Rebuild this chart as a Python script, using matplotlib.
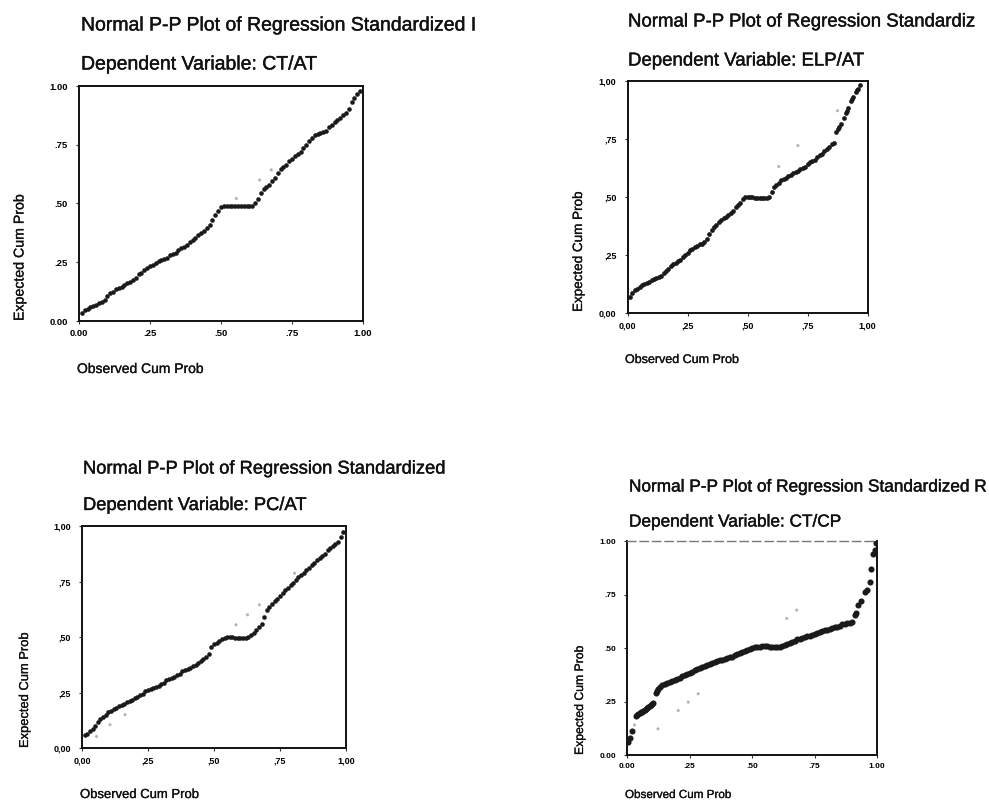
import matplotlib
matplotlib.use("Agg")
import matplotlib.pyplot as plt
import matplotlib.patheffects as pe

plt.rcParams['font.family'] = ['Liberation Sans', 'DejaVu Sans']

W, H = 989, 805

# ---------------- data ----------------
tick_vals = [0.0, 0.25, 0.5, 0.75, 1.0]
labels_dot = ["0.00", ".25", ".50", ".75", "1.00"]
labels_comma = ["0,00", ",25", ",50", ",75", "1,00"]

titles = [
    ("Normal P-P Plot of Regression Standardized I", "Dependent Variable: CT/AT"),
    ("Normal P-P Plot of Regression Standardiz", "Dependent Variable: ELP/AT"),
    ("Normal P-P Plot of Regression Standardized", "Dependent Variable: PC/AT"),
    ("Normal P-P Plot of Regression Standardized R", "Dependent Variable: CT/CP"),
]
xlabel_text = "Observed Cum Prob"
ylabel_text = "Expected Cum Prob"

obs_grid = [0.01, 0.02, 0.03, 0.04, 0.05, 0.06, 0.07, 0.08, 0.09, 0.10,
            0.11, 0.12, 0.13, 0.14, 0.15, 0.16, 0.17, 0.18, 0.19, 0.20,
            0.21, 0.22, 0.23, 0.24, 0.25, 0.26, 0.27, 0.28, 0.29, 0.30,
            0.31, 0.32, 0.33, 0.34, 0.35, 0.36, 0.37, 0.38, 0.39, 0.40,
            0.41, 0.42, 0.43, 0.44, 0.45, 0.46, 0.47, 0.48, 0.49, 0.50,
            0.51, 0.52, 0.53, 0.54, 0.55, 0.56, 0.57, 0.58, 0.59, 0.60,
            0.61, 0.62, 0.63, 0.64, 0.65, 0.66, 0.67, 0.68, 0.69, 0.70,
            0.71, 0.72, 0.73, 0.74, 0.75, 0.76, 0.77, 0.78, 0.79, 0.80,
            0.81, 0.82, 0.83, 0.84, 0.85, 0.86, 0.87, 0.88, 0.89, 0.90,
            0.91, 0.92, 0.93, 0.94, 0.95, 0.96, 0.97, 0.98, 0.99]

# Panel 1: CT/AT
p1_obs = obs_grid
p1_exp = [0.035, 0.045, 0.05, 0.06, 0.065, 0.07, 0.075, 0.08, 0.09, 0.105,
          0.12, 0.125, 0.135, 0.14, 0.145, 0.155, 0.16, 0.165, 0.175, 0.185,
          0.20, 0.205, 0.215, 0.225, 0.235, 0.24, 0.245, 0.255, 0.26, 0.265,
          0.27, 0.28, 0.285, 0.29, 0.30, 0.31, 0.315, 0.325, 0.335, 0.345,
          0.355, 0.365, 0.375, 0.385, 0.395, 0.41, 0.43, 0.45, 0.47, 0.485,
          0.49, 0.49, 0.49, 0.49, 0.49, 0.488, 0.488, 0.488, 0.488, 0.488,
          0.49, 0.50, 0.52, 0.545, 0.56, 0.57, 0.58, 0.595, 0.61, 0.63,
          0.645, 0.655, 0.665, 0.68, 0.69, 0.70, 0.71, 0.72, 0.735, 0.75,
          0.765, 0.78, 0.79, 0.795, 0.80, 0.805, 0.81, 0.825, 0.835, 0.845,
          0.855, 0.865, 0.875, 0.885, 0.90, 0.93, 0.95, 0.965, 0.98]
p1_stray_obs = [0.554, 0.636, 0.677]
p1_stray_exp = [0.521, 0.60, 0.643]

# Panel 2: ELP/AT
p2_obs = [0.01, 0.02, 0.03, 0.04, 0.05, 0.06, 0.07, 0.08, 0.09, 0.10,
          0.11, 0.12, 0.13, 0.14, 0.15, 0.16, 0.17, 0.18, 0.19, 0.20,
          0.21, 0.22, 0.23, 0.24, 0.25, 0.26, 0.27, 0.28, 0.29, 0.30,
          0.31, 0.32, 0.33, 0.34, 0.35, 0.36, 0.37, 0.38, 0.39, 0.40,
          0.41, 0.42, 0.43, 0.44, 0.45, 0.46, 0.47, 0.48, 0.49, 0.50,
          0.51, 0.52, 0.53, 0.54, 0.55, 0.56, 0.57, 0.58, 0.59, 0.60,
          0.61, 0.62, 0.63, 0.64, 0.65, 0.66, 0.67, 0.68, 0.69, 0.70,
          0.71, 0.72, 0.73, 0.74, 0.75, 0.76, 0.77, 0.78, 0.79, 0.80,
          0.81, 0.82, 0.83, 0.84, 0.85, 0.86,
          0.87, 0.875, 0.88, 0.89, 0.90, 0.91, 0.915, 0.92, 0.93, 0.935,
          0.94, 0.95, 0.955, 0.96, 0.97]
p2_exp = [0.07, 0.085, 0.10, 0.105, 0.11, 0.12, 0.125, 0.13, 0.135, 0.14,
          0.145, 0.15, 0.155, 0.16, 0.17, 0.18, 0.19, 0.20, 0.21, 0.215,
          0.225, 0.23, 0.24, 0.25, 0.26, 0.27, 0.275, 0.285, 0.29, 0.295,
          0.295, 0.305, 0.32, 0.34, 0.355, 0.37, 0.38, 0.39, 0.40, 0.41,
          0.415, 0.42, 0.43, 0.44, 0.455, 0.465, 0.475, 0.49, 0.50, 0.50,
          0.50, 0.498, 0.495, 0.495, 0.495, 0.495, 0.495, 0.495, 0.50, 0.52,
          0.54, 0.55, 0.56, 0.57, 0.575, 0.58, 0.59, 0.595, 0.60, 0.605,
          0.61, 0.62, 0.625, 0.63, 0.64, 0.65, 0.655, 0.66, 0.67, 0.68,
          0.685, 0.695, 0.705, 0.715, 0.725, 0.73,
          0.78, 0.79, 0.80, 0.815, 0.84, 0.86, 0.87, 0.88, 0.91, 0.92,
          0.93, 0.95, 0.96, 0.965, 0.98]
p2_stray_obs = [0.63, 0.71, 0.875]
p2_stray_exp = [0.63, 0.72, 0.87]

# Panel 3: PC/AT
p3_obs = obs_grid
p3_exp = [0.06, 0.065, 0.075, 0.085, 0.10, 0.115, 0.13, 0.14, 0.15, 0.16,
          0.165, 0.175, 0.18, 0.19, 0.195, 0.20, 0.205, 0.21, 0.215, 0.225,
          0.23, 0.24, 0.245, 0.255, 0.26, 0.265, 0.27, 0.275, 0.28, 0.29,
          0.295, 0.305, 0.31, 0.315, 0.32, 0.33, 0.335, 0.345, 0.35, 0.355,
          0.36, 0.37, 0.375, 0.385, 0.39, 0.40, 0.41, 0.425, 0.455, 0.47,
          0.475, 0.48, 0.49, 0.495, 0.50, 0.50, 0.50, 0.497, 0.495, 0.495,
          0.495, 0.497, 0.50, 0.51, 0.52, 0.53, 0.545, 0.56, 0.59, 0.62,
          0.635, 0.65, 0.66, 0.67, 0.685, 0.70, 0.71, 0.72, 0.735, 0.745,
          0.755, 0.77, 0.78, 0.79, 0.80, 0.81, 0.825, 0.835, 0.845, 0.855,
          0.865, 0.875, 0.89, 0.90, 0.91, 0.92, 0.93, 0.95, 0.975]
p3_stray_obs = [0.055, 0.106, 0.163, 0.583, 0.627, 0.672, 0.805]
p3_stray_exp = [0.052, 0.105, 0.15, 0.555, 0.60, 0.645, 0.787]

# Panel 4: CT/CP
p4_obs = [0.005, 0.01, 0.02, 0.035, 0.04, 0.045, 0.05, 0.055, 0.06, 0.065, 0.07, 0.075,
          0.08, 0.085, 0.09, 0.095, 0.10, 0.105, 0.115, 0.12, 0.125, 0.13, 0.14, 0.15,
          0.16, 0.17, 0.18, 0.19, 0.20, 0.21, 0.22, 0.23, 0.24, 0.25, 0.26, 0.27, 0.28,
          0.29, 0.30, 0.31, 0.32, 0.33, 0.34, 0.35, 0.36, 0.37, 0.38, 0.39, 0.40, 0.41,
          0.42, 0.43, 0.44, 0.45, 0.46, 0.47, 0.48, 0.49, 0.50, 0.51, 0.52, 0.53, 0.54,
          0.55, 0.56, 0.57, 0.58, 0.59, 0.60, 0.61, 0.62, 0.63, 0.64, 0.65, 0.66, 0.67,
          0.68, 0.69, 0.70, 0.71, 0.72, 0.73, 0.74, 0.75, 0.76, 0.77, 0.78, 0.79, 0.80,
          0.81, 0.82, 0.83, 0.84, 0.85, 0.86, 0.87, 0.88, 0.89, 0.90,
          0.91, 0.915, 0.925, 0.935, 0.95, 0.96, 0.97, 0.975, 0.985, 0.99, 0.995]
p4_exp = [0.06, 0.08, 0.11, 0.18, 0.185, 0.19, 0.195, 0.20, 0.202, 0.205, 0.21, 0.215,
          0.22, 0.225, 0.23, 0.235, 0.24, 0.245, 0.29, 0.30, 0.31, 0.318, 0.325, 0.33,
          0.335, 0.34, 0.345, 0.35, 0.355, 0.362, 0.37, 0.375, 0.38, 0.385, 0.39, 0.395, 0.40,
          0.405, 0.41, 0.415, 0.42, 0.425, 0.43, 0.435, 0.44, 0.443, 0.445, 0.45, 0.455, 0.458,
          0.46, 0.465, 0.47, 0.475, 0.48, 0.485, 0.49, 0.495, 0.50, 0.503, 0.505, 0.507, 0.508,
          0.508, 0.508, 0.506, 0.505, 0.505, 0.505, 0.507, 0.51, 0.515, 0.52, 0.525, 0.53, 0.535,
          0.54, 0.542, 0.545, 0.55, 0.555, 0.558, 0.56, 0.565, 0.57, 0.575, 0.58, 0.583, 0.585,
          0.59, 0.595, 0.598, 0.60, 0.605, 0.61, 0.612, 0.615, 0.618, 0.62,
          0.655, 0.665, 0.70, 0.72, 0.76, 0.77, 0.81, 0.87, 0.94, 0.96, 0.99]
p4_stray_obs = [0.03, 0.124, 0.205, 0.245, 0.285, 0.639, 0.679]
p4_stray_exp = [0.14, 0.122, 0.208, 0.247, 0.286, 0.638, 0.677]

# ---------------- layout (pixel boxes: left, right, top, bottom) ----------------
panels = [
    dict(box=(79, 363, 86, 321), obs=p1_obs, exp=p1_exp, sx=p1_stray_obs, sy=p1_stray_exp,
         labels=labels_dot, tfs=14.0, t1=(81, 30.5), t2=(81, 69.5), tick_fs=6.8,
         xl=(77, 373, 10.0), yl=(23.5, 321, 10.2), ms=3.3),
    dict(box=(627.5, 867.5, 80.5, 313), obs=p2_obs, exp=p2_exp, sx=p2_stray_obs, sy=p2_stray_exp,
         labels=labels_comma, tfs=13.4, t1=(628, 26.5), t2=(628, 65.5), tick_fs=6.5,
         xl=(625, 363, 9.0), yl=(582, 312, 9.7), ms=3.4),
    dict(box=(82, 346, 526, 748), obs=p3_obs, exp=p3_exp, sx=p3_stray_obs, sy=p3_stray_exp,
         labels=labels_comma, tfs=13.2, t1=(83, 473.5), t2=(83, 510), tick_fs=6.5,
         xl=(80, 798, 9.4), yl=(28, 748, 9.3), ms=3.3),
    dict(box=(627, 877, 541, 755), obs=p4_obs, exp=p4_exp, sx=p4_stray_obs, sy=p4_stray_exp,
         labels=labels_dot, tfs=12.4, t1=(629, 491.5), t2=(629, 526.5), tick_fs=6.0,
         xl=(625, 798, 8.4), yl=(583, 755, 8.8), ms=4.4),
]

fig = plt.figure(figsize=(W / 100, H / 100), dpi=100)
fig.patch.set_facecolor("white")

heavy = [pe.withStroke(linewidth=0.3, foreground="#111111")]
light_heavy = [pe.withStroke(linewidth=0.2, foreground="#111111")]


def fx(px):
    return px / W


def fy(py):
    return 1 - py / H


for i, p in enumerate(panels):
    l, r, t, b = p["box"]
    ax = fig.add_axes([fx(l), fy(b), (r - l) / W, (b - t) / H])
    ax.set_xlim(0, 1)
    ax.set_ylim(0, 1)
    ax.scatter(p["sx"], p["sy"], s=5, color="#b5b5b5", edgecolors="none", zorder=2)
    ax.plot(p["obs"], p["exp"], linestyle="none", marker="o", markersize=p["ms"],
            color="#1a1a1a", markeredgewidth=0, zorder=3)
    ax.set_xticks(tick_vals)
    ax.set_yticks(tick_vals)
    ax.set_xticklabels(p["labels"], fontsize=p["tick_fs"], fontweight="bold")
    ax.set_yticklabels(p["labels"], fontsize=p["tick_fs"], fontweight="bold")
    ax.tick_params(axis="both", length=2, width=0.8, direction="out", color="#333333")
    ax.tick_params(axis="y", pad=6)
    ax.tick_params(axis="x", pad=4)
    for side in ["left", "bottom", "right", "top"]:
        ax.spines[side].set_linewidth(1.4)
        ax.spines[side].set_color("#111111")
    if i == 3:
        ax.spines["top"].set_linewidth(1.0)
        ax.spines["top"].set_color("#777777")
        ax.spines["top"].set_linestyle((0, (6, 3)))
    ax.set_facecolor("white")

    t1, t2 = titles[i]
    fig.text(fx(p["t1"][0]), fy(p["t1"][1]), t1, fontsize=p["tfs"], ha="left", va="baseline",
             color="#111111", path_effects=heavy)
    fig.text(fx(p["t2"][0]), fy(p["t2"][1]), t2, fontsize=p["tfs"], ha="left", va="baseline",
             color="#111111", path_effects=heavy)
    xx, xyb, xfs = p["xl"]
    fig.text(fx(xx), fy(xyb), xlabel_text, fontsize=xfs, ha="left", va="baseline",
             color="#111111", path_effects=light_heavy)
    yx, yyb, yfs = p["yl"]
    fig.text(fx(yx), fy(yyb), ylabel_text, fontsize=yfs, rotation=90,
             rotation_mode="anchor", ha="left", va="baseline", color="#111111",
             path_effects=light_heavy)

fig.savefig("out.png", dpi=100, facecolor="white")
